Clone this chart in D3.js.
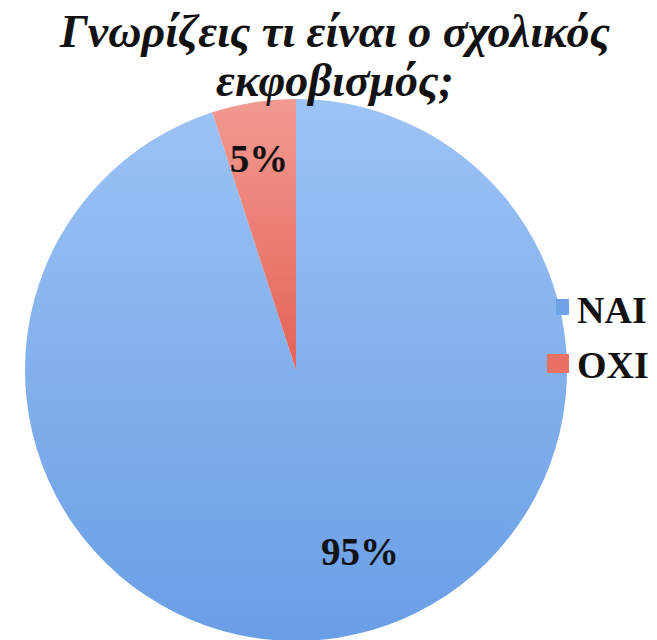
<!DOCTYPE html>
<html><head><meta charset="utf-8">
<script src="https://cdn.jsdelivr.net/npm/d3@7"></script>
<style>body{margin:0;background:#fff}svg{display:block}</style>
</head><body>
<script>
const categories = ["NAI", "OXI"];
const values = [95, 5];
const labels = ["95%", "5%"];
const titleLines = ["Γνωρίζεις τι είναι ο σχολικός", "εκφοβισμός;"];

const W = 657, H = 640;
const svg = d3.select("body").append("svg").attr("width", W).attr("height", H);
const defs = svg.append("defs");
const grads = [
  {id: "gBlue", top: "#9cc3f5", bottom: "#6a9ee5", y2: 270},
  {id: "gRed", top: "#f29a91", bottom: "#e4625556", y2: 0}
];
grads[1].bottom = "#e46255";
grads.forEach(g => {
  const lg = defs.append("linearGradient").attr("id", g.id)
    .attr("gradientUnits", "userSpaceOnUse")
    .attr("x1", 0).attr("y1", -270).attr("x2", 0).attr("y2", g.y2);
  lg.append("stop").attr("offset", 0).attr("stop-color", g.top);
  lg.append("stop").attr("offset", 1).attr("stop-color", g.bottom);
});

const color = d3.scaleOrdinal().domain(categories).range(["url(#gBlue)", "url(#gRed)"]);
const legendColor = d3.scaleOrdinal().domain(categories).range(["#6fa3e8", "#ea7064"]);

const cx = 296, cy = 370, R = 271;
const pie = d3.pie().sort(null).value(d => d.v);
const data = categories.map((c, i) => ({c, v: values[i], l: labels[i]}));
const arcs = pie(data);
const arc = d3.arc().innerRadius(0).outerRadius(R);
const g = svg.append("g").attr("transform", `translate(${cx},${cy})`);
g.selectAll("path").data(arcs).join("path")
  .attr("d", arc).attr("fill", d => color(d.data.c));

const labelPos = {"NAI": [64, 195], "OXI": [-37, -198]};
g.selectAll("text.lbl").data(arcs).join("text").attr("class", "lbl")
  .attr("x", d => labelPos[d.data.c][0]).attr("y", d => labelPos[d.data.c][1])
  .attr("text-anchor", "middle")
  .attr("font-family", "'Liberation Serif', 'Times New Roman', serif")
  .attr("font-weight", "bold").attr("font-size", 39).attr("fill", "#111")
  .text(d => d.data.l);

svg.selectAll("text.title").data(titleLines).join("text").attr("class", "title")
  .attr("x", 335).attr("y", (d, i) => 47 + i * 49)
  .attr("text-anchor", "middle")
  .attr("font-family", "'Liberation Serif', 'Times New Roman', serif")
  .attr("font-weight", "bold").attr("font-style", "italic")
  .attr("font-size", 46).attr("fill", "#111")
  .text(d => d);

const lg = svg.append("g");
categories.forEach((c, i) => {
  const y = 323 + i * 55;
  lg.append("rect").attr("x", 556 - i * 9).attr("y", y - 24).attr("width", 13 + i * 9).attr("height", 16 + i * 3)
    .attr("fill", legendColor(c));
  lg.append("text").attr("x", 577).attr("y", y)
    .attr("font-family", "'Liberation Serif', 'Times New Roman', serif")
    .attr("font-weight", "bold").attr("font-size", 38).attr("fill", "#111")
    .text(c);
});
</script>
</body></html>
